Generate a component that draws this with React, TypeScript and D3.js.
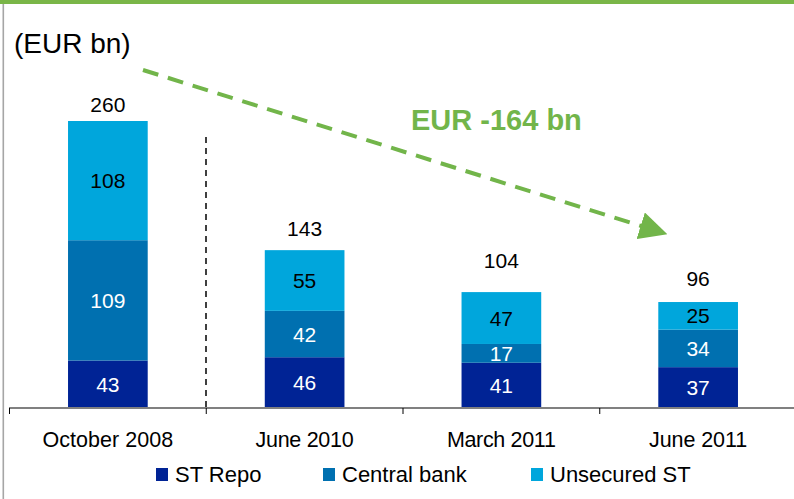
import React, { useEffect, useRef } from 'react';
import * as d3 from 'd3';

const categories = ['October 2008', 'June 2010', 'March 2011', 'June 2011'];
const stRepo = [43, 46, 41, 37];
const centralBank = [109, 42, 17, 34];
const unsecured = [108, 55, 47, 25];
const totals = [260, 143, 104, 96];
const seriesNames = ['ST Repo', 'Central bank', 'Unsecured ST'];
const seriesColors = ['#002395', '#0070b0', '#00a6dc'];
const labelColors = ['#ffffff', '#ffffff', '#000000'];
// gap between the bar top and its total label (hand placed in the original)
const totalLabelGap = [9, 14, 25, 16];

const App = () => {
  const ref = useRef<SVGSVGElement>(null);

  useEffect(() => {
    const width = 794;
    const height = 499;
    const svg = d3.select(ref.current);
    svg.selectAll('*').remove();

    const font = '"Liberation Sans", Arial, sans-serif';
    const green = '#72b54a';

    // frame bits
    svg.append('rect').attr('x', 0).attr('y', 0).attr('width', width).attr('height', 4).attr('fill', '#7ab648');
    svg.append('line').attr('x1', 3.3).attr('x2', 3.3).attr('y1', 4).attr('y2', height)
      .attr('stroke', '#a6a6a6').attr('stroke-width', 1.6);

    // scales
    const x = d3.scaleBand().domain(categories).range([9, 797]).paddingInner(0.595).paddingOuter(0.3);
    const y = d3.scaleLinear().domain([0, 260]).range([408, 121]);

    const table = categories.map((c, i) => ({
      cat: c,
      'ST Repo': stRepo[i],
      'Central bank': centralBank[i],
      'Unsecured ST': unsecured[i],
    }));
    const stack = d3.stack<any>().keys(seriesNames)(table);

    stack.forEach((layer, li) => {
      const g = svg.append('g');
      g.selectAll('rect')
        .data(layer)
        .enter()
        .append('rect')
        .attr('x', d => x(d.data.cat)!)
        .attr('width', x.bandwidth())
        .attr('y', d => y(d[1]))
        .attr('height', d => y(d[0]) - y(d[1]))
        .attr('fill', seriesColors[li]);
      g.selectAll('text')
        .data(layer)
        .enter()
        .append('text')
        .attr('x', d => x(d.data.cat)! + x.bandwidth() / 2)
        .attr('y', d => (y(d[0]) + y(d[1])) / 2 + 7.5)
        .attr('text-anchor', 'middle')
        .attr('font-family', font)
        .attr('font-size', 21)
        .attr('fill', labelColors[li])
        .text(d => d[1] - d[0]);
    });

    // totals
    svg.selectAll('.total')
      .data(totals)
      .enter()
      .append('text')
      .attr('x', (d, i) => x(categories[i])! + x.bandwidth() / 2)
      .attr('y', (d, i) => y(d) - totalLabelGap[i])
      .attr('text-anchor', 'middle')
      .attr('font-family', font)
      .attr('font-size', 21)
      .attr('fill', '#000')
      .text(d => d);

    // x axis
    const axisY = 408;
    svg.append('line').attr('x1', 9).attr('x2', width).attr('y1', axisY).attr('y2', axisY)
      .attr('stroke', '#808080').attr('stroke-width', 2);
    const step = x.step();
    d3.range(5).forEach(i => {
      const tx = 9.5 + i * step;
      svg.append('line').attr('x1', tx).attr('x2', tx).attr('y1', axisY).attr('y2', axisY + 6)
        .attr('stroke', '#000').attr('stroke-width', 1);
    });
    svg.selectAll('.cat')
      .data(categories)
      .enter()
      .append('text')
      .attr('x', d => x(d)! + x.bandwidth() / 2)
      .attr('y', 447)
      .attr('text-anchor', 'middle')
      .attr('font-family', font)
      .attr('font-size', 21.5)
      .attr('textLength', d => d.length * 10.9)
      .attr('fill', '#000')
      .text(d => d);

    // vertical dashed separator
    svg.append('line').attr('x1', 206).attr('x2', 206).attr('y1', 137).attr('y2', axisY)
      .attr('stroke', '#000').attr('stroke-width', 1.5).attr('stroke-dasharray', '6,5');

    // legend
    const legendX = [156, 323, 531];
    seriesNames.forEach((s, i) => {
      svg.append('rect').attr('x', legendX[i]).attr('y', 468).attr('width', 12).attr('height', 13)
        .attr('fill', seriesColors[i]);
      svg.append('text').attr('x', legendX[i] + 19).attr('y', 482)
        .attr('font-family', font).attr('font-size', 22).attr('fill', '#000').text(s);
    });

    // unit label
    svg.append('text').attr('x', 14).attr('y', 53)
      .attr('font-family', font).attr('font-size', 28).attr('fill', '#000').text('(EUR bn)');

    // arrow
    svg.append('defs').append('marker')
      .attr('id', 'arrowhead')
      .attr('viewBox', '0 0 10 10')
      .attr('refX', 2).attr('refY', 5)
      .attr('markerWidth', 7).attr('markerHeight', 7)
      .attr('markerUnits', 'strokeWidth')
      .attr('orient', 'auto')
      .append('path').attr('d', 'M0,0 L10,5 L0,10 Z').attr('fill', green);
    svg.append('line')
      .attr('x1', 143).attr('y1', 70).attr('x2', 646).attr('y2', 227.5)
      .attr('stroke', green).attr('stroke-width', 4).attr('stroke-dasharray', '16,10')
      .attr('marker-end', 'url(#arrowhead)');

    svg.append('text').attr('x', 411).attr('y', 130)
      .attr('font-family', font).attr('font-size', 29).attr('font-weight', 'bold')
      .attr('fill', green).text('EUR -164 bn');
  }, []);

  return (
    <svg ref={ref} width={794} height={499} style={{ position: 'absolute', left: 0, top: 0 }}></svg>
  );
};

export default App;
